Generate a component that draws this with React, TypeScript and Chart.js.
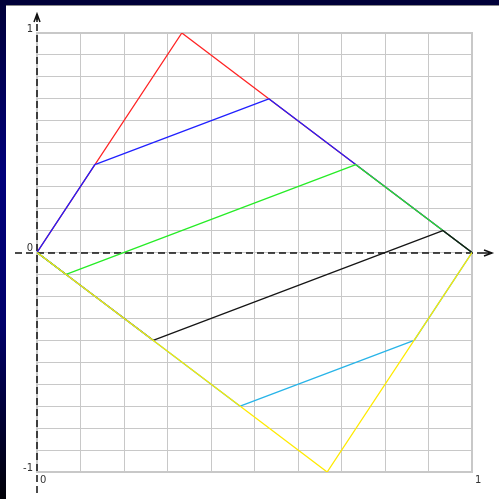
import React, { useEffect, useRef } from "react";
import { Chart, registerables } from "chart.js";

Chart.register(...registerables);

// Path vertices of each series (x in [0, 1], y in [-1, 1])
const redX = [0, 0.333, 1];
const redY = [0, 1, 0];
const blueX = [0, 0.133, 0.533, 1];
const blueY = [0, 0.4, 0.7, 0];
const greenX = [0, 0.067, 0.733, 1];
const greenY = [0, -0.1, 0.4, 0];
const blackX = [0, 0.267, 0.933, 1];
const blackY = [0, -0.4, 0.1, 0];
const cyanX = [0, 0.467, 0.867, 1];
const cyanY = [0, -0.7, -0.4, 0];
const yellowX = [0, 0.667, 1];
const yellowY = [0, -1, 0];

// Axis labels shown next to the dashed axes
const xTickValues = [0, 1];
const xTickLabels = ["0", "1"];
const yTickValues = [-1, 0, 1];
const yTickLabels = ["-1", "0", "1"];

const toPoints = (xs: number[], ys: number[]) => xs.map((x, i) => ({ x, y: ys[i] }));

const GRID = "#c8c8c8";

const axesPlugin = {
  id: "dashedAxes",
  beforeDatasetsDraw(chart: any) {
    const { ctx, chartArea, scales } = chart;
    const xs = scales.x;
    const ys = scales.y;
    ctx.save();

    // heavier outer frame
    ctx.strokeStyle = GRID;
    ctx.lineWidth = 2;
    ctx.strokeRect(chartArea.left, chartArea.top, chartArea.right - chartArea.left, chartArea.bottom - chartArea.top);

    const x0 = Math.round(xs.getPixelForValue(0));
    const y0 = Math.round(ys.getPixelForValue(0));

    ctx.strokeStyle = "#111";
    ctx.lineWidth = 1.5;
    ctx.setLineDash([7, 4]);

    // vertical axis
    ctx.beginPath();
    ctx.moveTo(x0, chartArea.bottom + 21);
    ctx.lineTo(x0, chartArea.top - 18);
    ctx.stroke();

    // horizontal axis
    ctx.beginPath();
    ctx.moveTo(chartArea.left - 22, y0);
    ctx.lineTo(chartArea.right + 19, y0);
    ctx.stroke();

    ctx.setLineDash([]);
    // arrow heads
    const upTip = chartArea.top - 19;
    ctx.beginPath();
    ctx.moveTo(x0 - 3, upTip + 8);
    ctx.lineTo(x0, upTip);
    ctx.lineTo(x0 + 3, upTip + 8);
    ctx.stroke();
    ctx.beginPath();
    ctx.moveTo(x0, upTip);
    ctx.lineTo(x0, upTip + 8);
    ctx.stroke();

    const rightTip = chartArea.right + 20;
    ctx.beginPath();
    ctx.moveTo(rightTip - 8, y0 - 3);
    ctx.lineTo(rightTip, y0);
    ctx.lineTo(rightTip - 8, y0 + 3);
    ctx.stroke();
    ctx.beginPath();
    ctx.moveTo(rightTip - 8, y0);
    ctx.lineTo(rightTip, y0);
    ctx.stroke();

    // labels
    ctx.fillStyle = "#333";
    ctx.font = "10px 'DejaVu Sans', sans-serif";
    ctx.textBaseline = "middle";
    ctx.textAlign = "right";
    yTickValues.forEach((v, i) => {
      ctx.fillText(yTickLabels[i], x0 - 4, ys.getPixelForValue(v) - 4);
    });
    ctx.textAlign = "left";
    xTickValues.forEach((v, i) => {
      ctx.fillText(xTickLabels[i], xs.getPixelForValue(v) + 3, chartArea.bottom + 8);
    });
    ctx.restore();
  },
};

export default function App() {
  const canvasRef = useRef<HTMLCanvasElement | null>(null);

  useEffect(() => {
    if (!canvasRef.current) return;
    const line = (label: string, xs: number[], ys: number[], color: string, order: number) => ({
      label,
      data: toPoints(xs, ys),
      borderColor: color,
      backgroundColor: color,
      borderWidth: 1.3,
      borderJoinStyle: "round" as const,
      pointRadius: 0,
      tension: 0,
      fill: false,
      order,
    });
    const chart = new Chart(canvasRef.current, {
      type: "line",
      data: {
        datasets: [
          line("red", redX, redY, "#ff2424", 6),
          line("blue", blueX, blueY, "#2020ff", 5),
          line("green", greenX, greenY, "#26ec26", 4),
          line("black", blackX, blackY, "#151515", 3),
          line("cyan", cyanX, cyanY, "#28b4e8", 2),
          line("yellow", yellowX, yellowY, "#ffea00", 1),
        ],
      },
      plugins: [axesPlugin],
      options: {
        animation: false,
        responsive: false,
        devicePixelRatio: 1,
        layout: { padding: { left: 37, top: 33, right: 27, bottom: 27 } },
        plugins: { legend: { display: false }, tooltip: { enabled: false } },
        scales: {
          x: {
            type: "linear",
            min: 0,
            max: 1,
            ticks: { display: false, stepSize: 0.1 },
            grid: { color: GRID, lineWidth: 1, drawTicks: false },
            border: { display: false },
          },
          y: {
            type: "linear",
            min: -1,
            max: 1,
            ticks: { display: false, stepSize: 0.1 },
            grid: { color: GRID, lineWidth: 1, drawTicks: false },
            border: { display: false },
          },
        },
      },
    });
    return () => chart.destroy();
  }, []);

  return (
    <div
      style={{
        position: "fixed",
        left: 0,
        top: 0,
        width: 499,
        height: 499,
        background: "linear-gradient(to bottom, #000038 0%, #00007a 35%, #00006a 65%, #000006 100%)",
      }}
    >
      <div
        style={{
          position: "absolute",
          left: 6,
          top: 5,
          right: 0,
          bottom: 0,
          background: "#fff",
          borderTop: "1px solid #8a8a8a",
        }}
      />
      <canvas
        ref={canvasRef}
        width={499}
        height={499}
        style={{ position: "absolute", left: 0, top: 0, display: "block" }}
      />
    </div>
  );
}
